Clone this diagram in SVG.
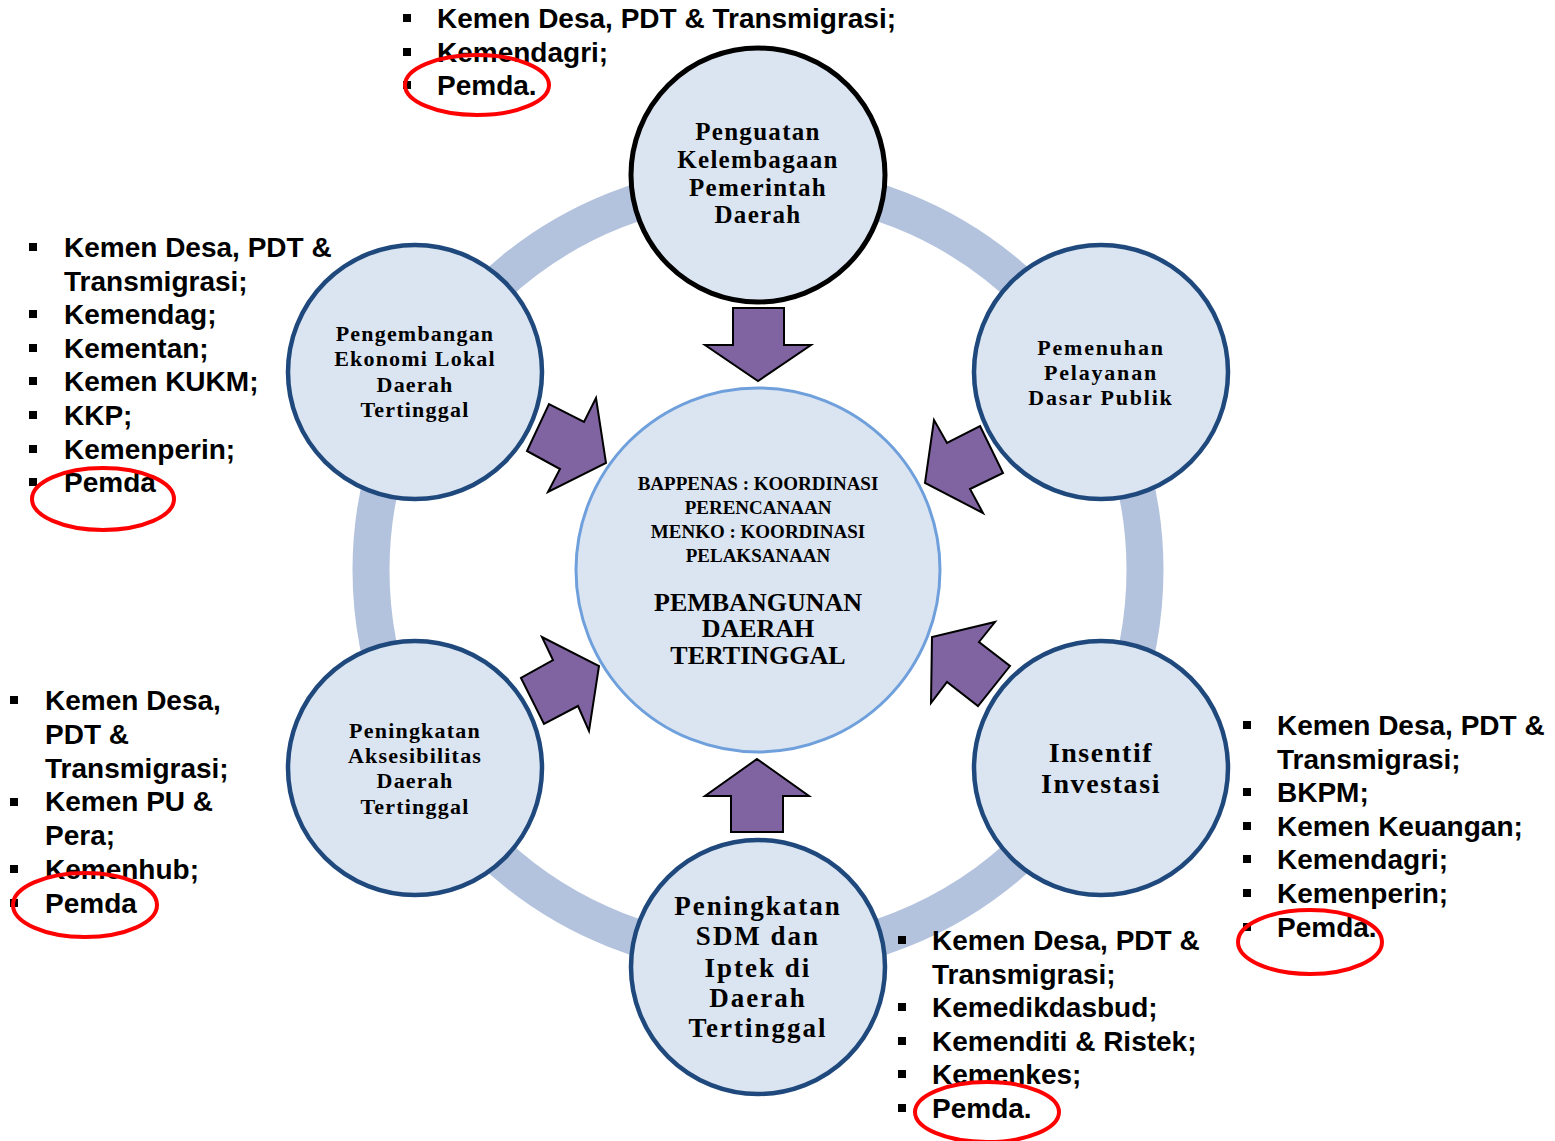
<svg xmlns="http://www.w3.org/2000/svg" width="1555" height="1141" viewBox="0 0 1555 1141">
<style>
.node{fill:#dbe5f1;stroke:#1f497d;stroke-width:4.5}
.ct{font-family:"Liberation Serif","Times New Roman",serif;font-weight:bold;fill:#000;text-anchor:middle}
.lt{font-family:"Liberation Sans",Arial,sans-serif;font-weight:bold;font-size:28px;fill:#000}
.arr{fill:#8064a2;stroke:#000;stroke-width:2;stroke-linejoin:miter}
.hl{fill:none;stroke:#ff0000;stroke-width:4}
.bul{fill:#000}
</style>
<rect width="1555" height="1141" fill="#fff"/>
<g id="ring"><circle cx="758" cy="570" r="387" fill="none" stroke="#b3c3de" stroke-width="37"/></g>

<g id="connectors">
<polygon class="arr" points="733,308 784,308 784,345 811,345 758,381 705,345 733,345"/>
<polygon class="arr" points="527,451 549,404 584,422 596,398 606,463 548,492 560,469"/>
<polygon class="arr" points="980,426 1003,473 970,489 983,513 925,483 934,420 947,443"/>
<polygon class="arr" points="521,678 544,724 578,706 589,731 599,666 542,637 553,660"/>
<polygon class="arr" points="1010,666 978,706 947,682 931,703 932,637 995,622 979,642"/>
<polygon class="arr" points="757,759 809,796 783,796 783,832 731,832 731,796 705,796"/>
</g>

<g id="center">
<circle cx="758" cy="570" r="182" fill="#dbe5f1" stroke="#6fa0dc" stroke-width="3"/>
<text class="ct" font-size="19" x="758" y="490">BAPPENAS : KOORDINASI</text>
<text class="ct" font-size="19" x="758" y="514">PERENCANAAN</text>
<text class="ct" font-size="19" x="758" y="538">MENKO : KOORDINASI</text>
<text class="ct" font-size="19" x="758" y="562">PELAKSANAAN</text>
<text class="ct" font-size="26" x="758" y="611">PEMBANGUNAN</text>
<text class="ct" font-size="26" x="758" y="637">DAERAH</text>
<text class="ct" font-size="26" x="758" y="664">TERTINGGAL</text>
</g>

<g id="node-top">
<circle cx="758" cy="175" r="127" fill="#dbe5f1" stroke="#000" stroke-width="5"/>
<text class="ct" font-size="25" letter-spacing="1.3" x="758" y="140">Penguatan</text>
<text class="ct" font-size="25" letter-spacing="1.3" x="758" y="168">Kelembagaan</text>
<text class="ct" font-size="25" letter-spacing="1.3" x="758" y="196">Pemerintah</text>
<text class="ct" font-size="25" letter-spacing="1.3" x="758" y="223">Daerah</text>
</g>

<g id="node-upper-left">
<circle class="node" cx="415" cy="372" r="127"/>
<text class="ct" font-size="22" letter-spacing="1.2" x="415" y="341">Pengembangan</text>
<text class="ct" font-size="22" letter-spacing="1.2" x="415" y="366">Ekonomi Lokal</text>
<text class="ct" font-size="22" letter-spacing="1.2" x="415" y="392">Daerah</text>
<text class="ct" font-size="22" letter-spacing="1.2" x="415" y="417">Tertinggal</text>
</g>

<g id="node-upper-right">
<circle class="node" cx="1101" cy="372" r="127"/>
<text class="ct" font-size="22" letter-spacing="1.8" x="1101" y="355">Pemenuhan</text>
<text class="ct" font-size="22" letter-spacing="1.8" x="1101" y="380">Pelayanan</text>
<text class="ct" font-size="22" letter-spacing="1.8" x="1101" y="405">Dasar Publik</text>
</g>

<g id="node-lower-left">
<circle class="node" cx="415" cy="768" r="127"/>
<text class="ct" font-size="22" letter-spacing="1.2" x="415" y="738">Peningkatan</text>
<text class="ct" font-size="22" letter-spacing="1.2" x="415" y="763">Aksesibilitas</text>
<text class="ct" font-size="22" letter-spacing="1.2" x="415" y="788">Daerah</text>
<text class="ct" font-size="22" letter-spacing="1.2" x="415" y="814">Tertinggal</text>
</g>

<g id="node-lower-right">
<circle class="node" cx="1101" cy="768" r="127"/>
<text class="ct" font-size="28" letter-spacing="1.6" x="1101" y="762">Insentif</text>
<text class="ct" font-size="28" letter-spacing="1.6" x="1101" y="793">Investasi</text>
</g>

<g id="node-bottom">
<circle class="node" cx="758" cy="967" r="127"/>
<text class="ct" font-size="27" letter-spacing="2" x="758" y="915">Peningkatan</text>
<text class="ct" font-size="27" letter-spacing="2" x="758" y="945">SDM dan</text>
<text class="ct" font-size="27" letter-spacing="2" x="758" y="977">Iptek di</text>
<text class="ct" font-size="27" letter-spacing="2" x="758" y="1007">Daerah</text>
<text class="ct" font-size="27" letter-spacing="2" x="758" y="1037">Tertinggal</text>
</g>

<g id="list-top">
<rect class="bul" x="403" y="14" width="8" height="8"/>
<rect class="bul" x="403" y="48" width="8" height="8"/>
<rect class="bul" x="403" y="81" width="8" height="8"/>
<text class="lt" x="437" y="28">Kemen Desa, PDT &amp; Transmigrasi;</text>
<text class="lt" x="437" y="62">Kemendagri;</text>
<text class="lt" x="437" y="95">Pemda.</text>
<ellipse class="hl" cx="477" cy="85" rx="72" ry="30"/>
</g>

<g id="list-upper-left">
<rect class="bul" x="29" y="243" width="8" height="8"/>
<rect class="bul" x="29" y="310" width="8" height="8"/>
<rect class="bul" x="29" y="344" width="8" height="8"/>
<rect class="bul" x="29" y="377" width="8" height="8"/>
<rect class="bul" x="29" y="411" width="8" height="8"/>
<rect class="bul" x="29" y="445" width="8" height="8"/>
<rect class="bul" x="29" y="478" width="8" height="8"/>
<text class="lt" x="64" y="257">Kemen Desa, PDT &amp;</text>
<text class="lt" x="64" y="291">Transmigrasi;</text>
<text class="lt" x="64" y="324">Kemendag;</text>
<text class="lt" x="64" y="358">Kementan;</text>
<text class="lt" x="64" y="391">Kemen KUKM;</text>
<text class="lt" x="64" y="425">KKP;</text>
<text class="lt" x="64" y="459">Kemenperin;</text>
<text class="lt" x="64" y="492">Pemda</text>
<ellipse class="hl" cx="103" cy="499" rx="71" ry="31"/>
</g>

<g id="list-lower-left">
<rect class="bul" x="10" y="696" width="8" height="8"/>
<rect class="bul" x="10" y="798" width="8" height="8"/>
<rect class="bul" x="10" y="865" width="8" height="8"/>
<rect class="bul" x="10" y="899" width="8" height="8"/>
<text class="lt" x="45" y="710">Kemen Desa,</text>
<text class="lt" x="45" y="744">PDT &amp;</text>
<text class="lt" x="45" y="778">Transmigrasi;</text>
<text class="lt" x="45" y="811">Kemen PU &amp;</text>
<text class="lt" x="45" y="845">Pera;</text>
<text class="lt" x="45" y="879">Kemenhub;</text>
<text class="lt" x="45" y="913">Pemda</text>
<ellipse class="hl" cx="85" cy="905" rx="72" ry="32"/>
</g>

<g id="list-right">
<rect class="bul" x="1243" y="721" width="8" height="8"/>
<rect class="bul" x="1243" y="788" width="8" height="8"/>
<rect class="bul" x="1243" y="822" width="8" height="8"/>
<rect class="bul" x="1243" y="855" width="8" height="8"/>
<rect class="bul" x="1243" y="889" width="8" height="8"/>
<rect class="bul" x="1243" y="923" width="8" height="8"/>
<text class="lt" x="1277" y="735">Kemen Desa, PDT &amp;</text>
<text class="lt" x="1277" y="769">Transmigrasi;</text>
<text class="lt" x="1277" y="802">BKPM;</text>
<text class="lt" x="1277" y="836">Kemen Keuangan;</text>
<text class="lt" x="1277" y="869">Kemendagri;</text>
<text class="lt" x="1277" y="903">Kemenperin;</text>
<text class="lt" x="1277" y="937">Pemda.</text>
<ellipse class="hl" cx="1310" cy="942" rx="72" ry="32"/>
</g>

<g id="list-bottom">
<rect class="bul" x="898" y="936" width="8" height="8"/>
<rect class="bul" x="898" y="1003" width="8" height="8"/>
<rect class="bul" x="898" y="1037" width="8" height="8"/>
<rect class="bul" x="898" y="1070" width="8" height="8"/>
<rect class="bul" x="898" y="1104" width="8" height="8"/>
<text class="lt" x="932" y="950">Kemen Desa, PDT &amp;</text>
<text class="lt" x="932" y="984">Transmigrasi;</text>
<text class="lt" x="932" y="1017">Kemedikdasbud;</text>
<text class="lt" x="932" y="1051">Kemenditi &amp; Ristek;</text>
<text class="lt" x="932" y="1084">Kemenkes;</text>
<text class="lt" x="932" y="1118">Pemda.</text>
<ellipse class="hl" cx="987" cy="1112" rx="72" ry="30"/>
</g>
</svg>
